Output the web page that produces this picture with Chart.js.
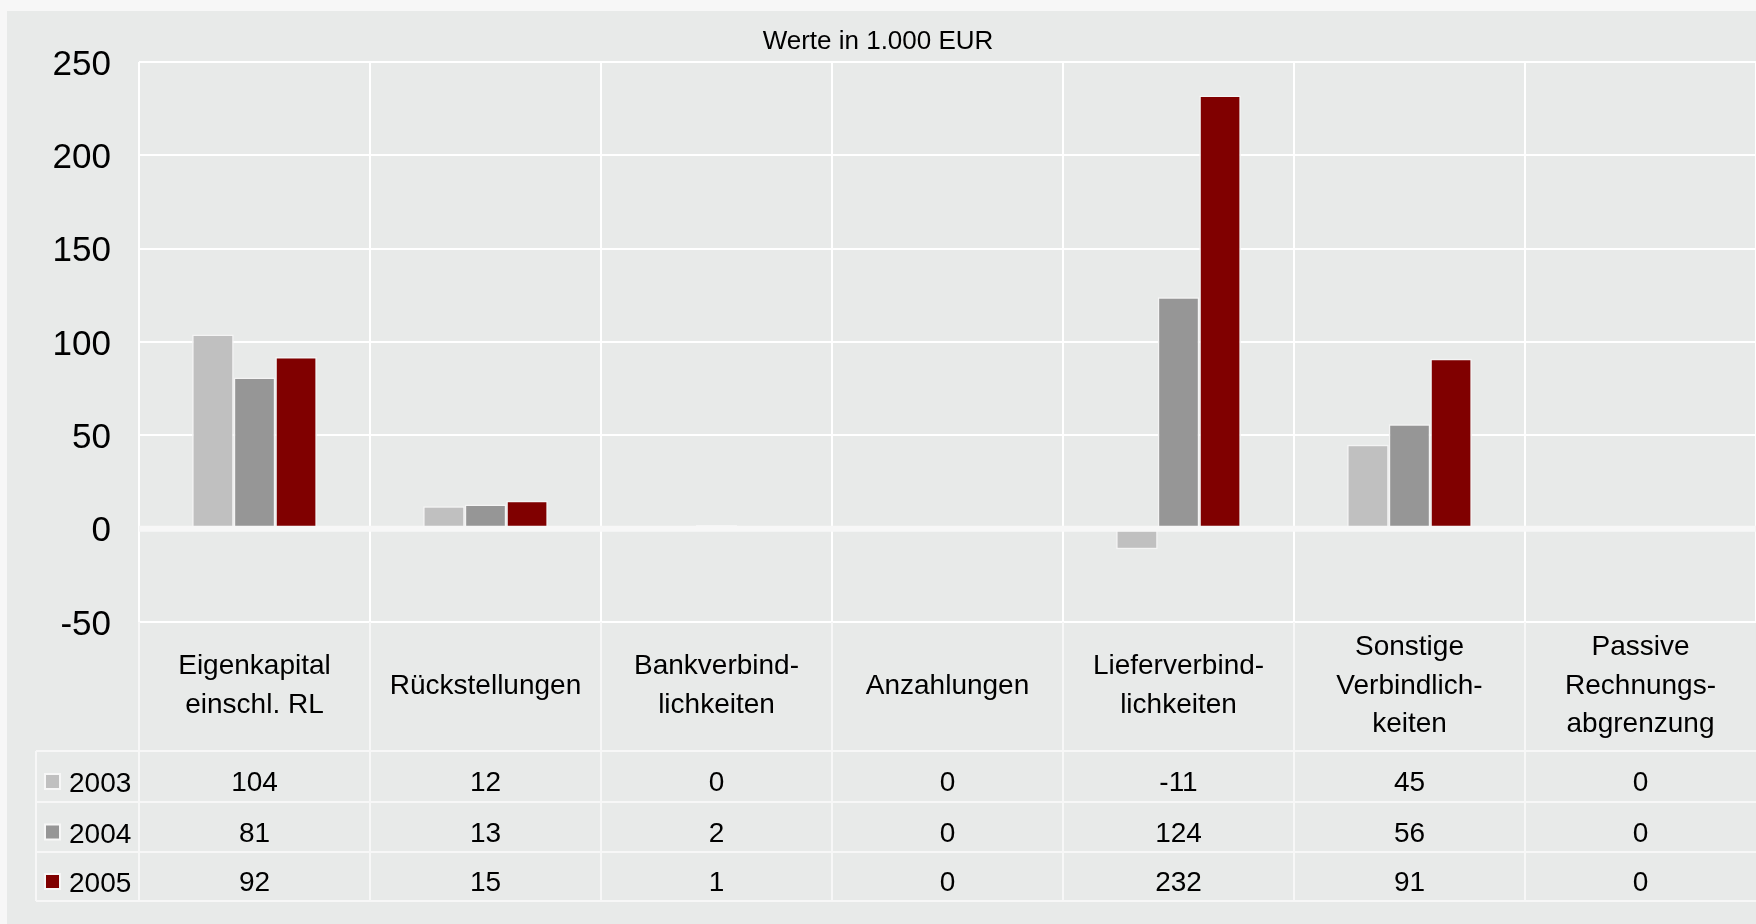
<!DOCTYPE html>
<html lang="de">
<head>
<meta charset="utf-8">
<title>Passiva</title>
<script src="https://cdn.jsdelivr.net/npm/chart.js@4.4.1/dist/chart.umd.min.js"></script>
<style>
  html, body { margin: 0; padding: 0; background: #f7f7f7; }
  canvas { display: block; }
</style>
</head>
<body>
<canvas id="passivaChart" width="1756" height="924"></canvas>
<script>
// Werte in 1.000 EUR
const categories = [
  ["Eigenkapital", "einschl. RL"],
  ["Rückstellungen"],
  ["Bankverbind-", "lichkeiten"],
  ["Anzahlungen"],
  ["Lieferverbind-", "lichkeiten"],
  ["Sonstige", "Verbindlich-", "keiten"],
  ["Passive", "Rechnungs-", "abgrenzung"]
];
const years = ["2003", "2004", "2005"];
const values2003 = [104, 12, 0, 0, -11, 45, 0];
const values2004 = [81, 13, 2, 0, 124, 56, 0];
const values2005 = [92, 15, 1, 0, 232, 91, 0];
const yTicks = [-50, 0, 50, 100, 150, 200, 250];

const seriesValues = [values2003, values2004, values2005];
const seriesColors = ["#c0c0c0", "#969696", "#800000"];
const fontFamily = "'Liberation Sans', Arial, sans-serif";
const lineColor = "#f7f7f7";

// panel background, zero line and the data table under the plot
const tablePlugin = {
  id: "dataTable",
  beforeDraw(chart) {
    const ctx = chart.ctx;
    ctx.save();
    ctx.fillStyle = "#e8eae9";
    ctx.fillRect(7, 11, chart.width - 7, chart.height - 11);
    ctx.restore();
  },
  afterDatasetsDraw(chart) {
    const ctx = chart.ctx;
    const area = chart.chartArea;
    const zeroY = chart.scales.y.getPixelForValue(0);
    ctx.save();
    ctx.strokeStyle = lineColor;
    ctx.lineWidth = 6;
    ctx.beginPath();
    ctx.moveTo(area.left, zeroY);
    ctx.lineTo(area.right, zeroY);
    ctx.stroke();
    ctx.restore();
  },
  afterDraw(chart) {
    const ctx = chart.ctx;
    const area = chart.chartArea;
    const x = chart.scales.x;
    const colWidth = x.getPixelForValue(1) - x.getPixelForValue(0);
    const base = area.bottom;
    const rowLines = [base + 129, base + 180, base + 230, base + 279];
    const rowBaselines = [base + 169, base + 219.5, base + 269];
    const tableLeft = 36;

    ctx.save();
    ctx.strokeStyle = lineColor;
    ctx.lineWidth = 2;
    ctx.beginPath();
    rowLines.forEach((y) => {
      ctx.moveTo(tableLeft, y);
      ctx.lineTo(chart.width, y);
    });
    ctx.moveTo(tableLeft, rowLines[0]);
    ctx.lineTo(tableLeft, rowLines[3]);
    for (let i = 0; i < categories.length; i++) {
      const left = x.getPixelForValue(i) - colWidth / 2;
      ctx.moveTo(left, base);
      ctx.lineTo(left, rowLines[3]);
    }
    ctx.stroke();

    ctx.fillStyle = "#000000";
    ctx.font = "28px " + fontFamily;
    ctx.textBaseline = "alphabetic";

    // category labels
    ctx.textAlign = "center";
    const lineHeight = 38.4;
    categories.forEach((lines, i) => {
      const cx = x.getPixelForValue(i);
      lines.forEach((line, k) => {
        const y = base + 71.5 + (k - (lines.length - 1) / 2) * lineHeight;
        ctx.fillText(line, cx, y);
      });
    });

    // rows
    seriesValues.forEach((values, r) => {
      const y = rowBaselines[r];
      ctx.fillStyle = lineColor;
      ctx.fillRect(44, y - 18, 17, 17);
      ctx.fillStyle = seriesColors[r];
      ctx.fillRect(46, y - 16, 13, 13);
      ctx.fillStyle = "#000000";
      ctx.textAlign = "left";
      ctx.fillText(years[r], 69, y + 1);
      ctx.textAlign = "center";
      values.forEach((v, i) => {
        ctx.fillText(String(v), x.getPixelForValue(i), y);
      });
    });
    ctx.restore();
  }
};

const chartCanvas = document.getElementById("passivaChart");

new Chart(chartCanvas.getContext("2d"), {
  type: "bar",
  data: {
    labels: categories,
    datasets: years.map((year, i) => ({
      label: year,
      data: seriesValues[i],
      backgroundColor: seriesColors[i],
      borderColor: "#f4f4f4",
      borderWidth: 1.5,
      borderSkipped: false,
      categoryPercentage: 0.54,
      barPercentage: 1
    }))
  },
  options: {
    responsive: false,
    animation: false,
    layout: {
      padding: 0
    },
    plugins: {
      legend: {
        display: false
      },
      tooltip: {
        enabled: false
      },
      title: {
        display: true,
        text: "Werte in 1.000 EUR",
        color: "#000000",
        font: {
          family: fontFamily,
          size: 26,
          weight: "normal",
          lineHeight: 1.2
        },
        padding: {
          top: 26.5,
          bottom: 4.3
        }
      }
    },
    scales: {
      x: {
        ticks: {
          display: false
        },
        grid: {
          color: "#ffffff",
          lineWidth: 2,
          drawTicks: false,
          offset: true
        },
        border: {
          display: false
        },
        afterFit(scale) {
          scale.height = 302;
        }
      },
      y: {
        min: yTicks[0],
        max: yTicks[yTicks.length - 1],
        afterBuildTicks(scale) {
          scale.ticks = yTicks.map((v) => ({ value: v }));
        },
        ticks: {
          color: "#000000",
          padding: 28,
          labelOffset: 3,
          font: {
            family: fontFamily,
            size: 35
          }
        },
        grid: {
          color: "#ffffff",
          lineWidth: 2,
          drawTicks: false
        },
        border: {
          display: false
        },
        afterFit(scale) {
          scale.width = 139;
        }
      }
    }
  },
  plugins: [tablePlugin]
});
</script>
</body>
</html>
